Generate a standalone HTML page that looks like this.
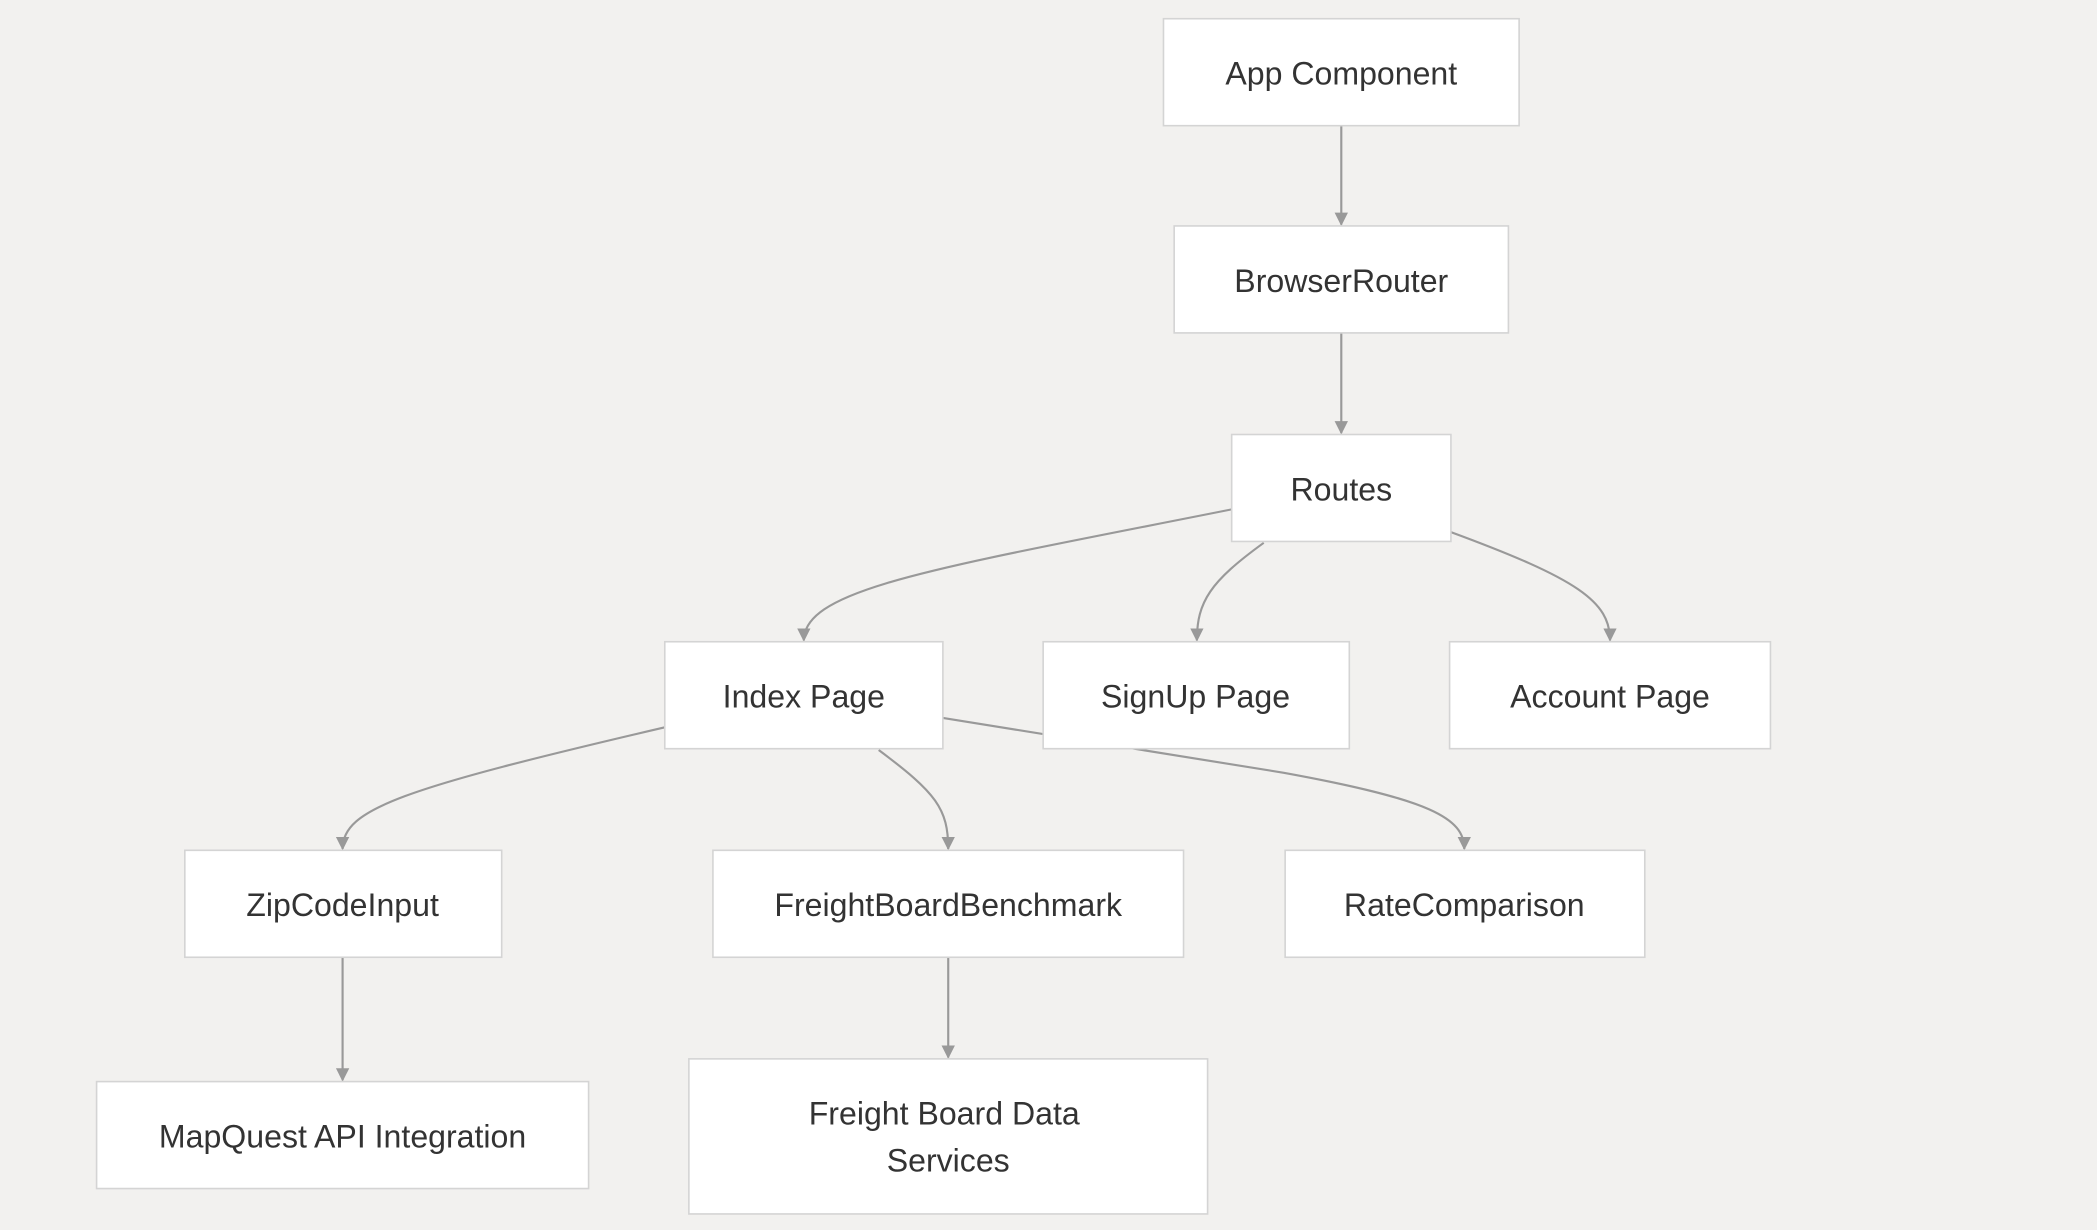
<!DOCTYPE html>
<html><head><meta charset="utf-8"><style>
html,body{margin:0;padding:0;background:#f2f1ef;}
svg{display:block}
text{font-family:"Liberation Sans",sans-serif;font-size:24px;fill:#333;text-anchor:middle;dominant-baseline:central}
.n{fill:#fff;stroke:#d4d4d4;stroke-width:1.2}
.e{fill:none;stroke:#999;stroke-width:1.6}
</style></head><body>
<svg width="2097" height="1230" viewBox="0 0 1568 920" xmlns="http://www.w3.org/2000/svg">
<defs><marker id="a" markerWidth="10" markerHeight="10" refX="9" refY="5" orient="auto" markerUnits="userSpaceOnUse"><path d="M0,0 L10,5 L0,10 z" fill="#999"/></marker></defs>
<rect width="1568" height="920" fill="#f2f1ef"/>
<path class="e" marker-end="url(#a)" d="M1003,94 L1003,168"/>
<path class="e" marker-end="url(#a)" d="M1003,249 L1003,324"/>
<path class="e" marker-end="url(#a)" d="M921,381 C700,425 601,440 601,479"/>
<path class="e" marker-end="url(#a)" d="M945,406 C905,435 895,450 895,479"/>
<path class="e" marker-end="url(#a)" d="M1085,398 C1180,433 1204,450 1204,479"/>
<path class="e" marker-end="url(#a)" d="M497,544 C300,590 256,605 256,635"/>
<path class="e" marker-end="url(#a)" d="M657,561 C700,593 709,605 709,635"/>
<path class="e" marker-end="url(#a)" d="M705,537 L960,578 C1070,598 1095,612 1095,635"/>
<path class="e" marker-end="url(#a)" d="M256,716 L256,808"/>
<path class="e" marker-end="url(#a)" d="M709,716 L709,791"/>
<rect class="n" x="870" y="14" width="266" height="80"/><text x="1003" y="55">App Component</text>
<rect class="n" x="878" y="169" width="250" height="80"/><text x="1003" y="210">BrowserRouter</text>
<rect class="n" x="921" y="325" width="164" height="80"/><text x="1003" y="366">Routes</text>
<rect class="n" x="497" y="480" width="208" height="80"/><text x="601" y="521">Index Page</text>
<rect class="n" x="780" y="480" width="229" height="80"/><text x="894" y="521">SignUp Page</text>
<rect class="n" x="1084" y="480" width="240" height="80"/><text x="1204" y="521">Account Page</text>
<rect class="n" x="138" y="636" width="237" height="80"/><text x="256" y="677">ZipCodeInput</text>
<rect class="n" x="533" y="636" width="352" height="80"/><text x="709" y="677">FreightBoardBenchmark</text>
<rect class="n" x="961" y="636" width="269" height="80"/><text x="1095" y="677">RateComparison</text>
<rect class="n" x="72" y="809" width="368" height="80"/><text x="256" y="850">MapQuest API Integration</text>
<rect class="n" x="515" y="792" width="388" height="116"/><text x="706" y="833">Freight Board Data</text><text x="709" y="868">Services</text>
</svg>
</body></html>
